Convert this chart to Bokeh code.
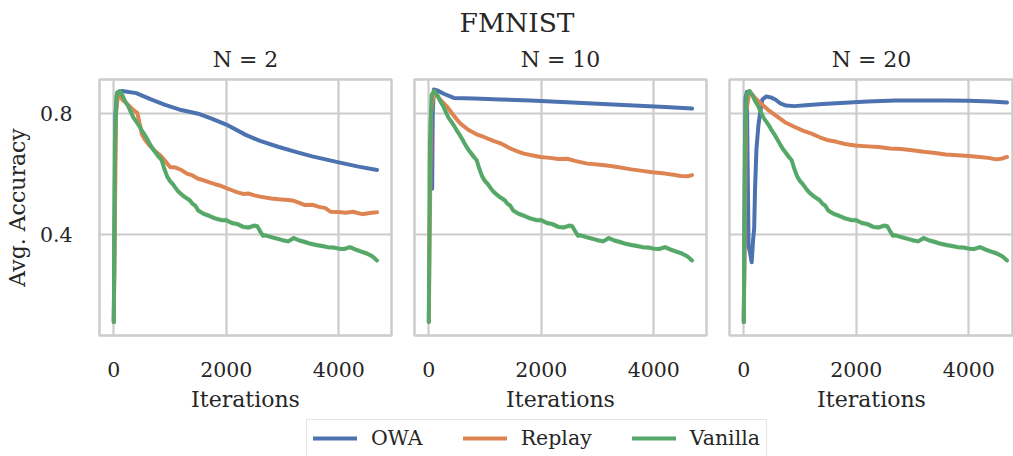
from bokeh.plotting import figure
from bokeh.layouts import column, row
from bokeh.models import Range1d, Legend, LegendItem, Label
from bokeh.embed import file_html
from bokeh.resources import INLINE

# ---------------- data ----------------
suptitle = "FMNIST"
panel_titles = ["N = 2", "N = 10", "N = 20"]
method_names = ["OWA", "Replay", "Vanilla"]
x_ticks = [0, 2000, 4000]
y_ticks = [0.4, 0.8]

iters_vanilla = [0, 20, 50, 100, 150, 200, 250, 300, 350, 400,
                 450, 500, 550, 600, 650, 700, 750, 800, 850, 900,
                 950, 1000, 1050, 1100, 1150, 1200, 1250, 1300, 1350, 1400,
                 1450, 1500, 1600, 1700, 1800, 1900, 2000, 2100, 2200, 2300,
                 2400, 2500, 2550, 2600, 2650, 2700, 2800, 2900, 3000, 3100,
                 3200, 3300, 3400, 3500, 3600, 3700, 3800, 3900, 4000, 4100,
                 4200, 4300, 4400, 4500, 4600, 4680]
acc_vanilla = [0.11, 0.70, 0.86, 0.873, 0.86, 0.84, 0.825, 0.805, 0.785, 0.772,
               0.758, 0.742, 0.728, 0.712, 0.695, 0.680, 0.668, 0.655, 0.645, 0.615,
               0.590, 0.575, 0.565, 0.552, 0.540, 0.532, 0.524, 0.518, 0.512, 0.500,
               0.494, 0.478, 0.467, 0.460, 0.452, 0.447, 0.446, 0.437, 0.433, 0.424,
               0.422, 0.428, 0.426, 0.410, 0.395, 0.396, 0.390, 0.385, 0.380, 0.376,
               0.387, 0.379, 0.374, 0.368, 0.364, 0.361, 0.357, 0.356, 0.352, 0.351,
               0.357, 0.349, 0.342, 0.336, 0.326, 0.313]
spread_vanilla = [0, 0, 0, 0, 0.004, 0.005, 0.006, 0.007, 0.008, 0.008,
                  0.009, 0.010, 0.010, 0.011, 0.011, 0.011, 0.012, 0.012, 0.012, 0.012,
                  0.012, 0.012, 0.011, 0.011, 0.011, 0.011, 0.010, 0.010, 0.010, 0.010,
                  0.010, 0.010, 0.009, 0.009, 0.009, 0.009, 0.009, 0.009, 0.009, 0.009,
                  0.009, 0.009, 0.009, 0.009, 0.008, 0.008, 0.008, 0.008, 0.008, 0.008,
                  0.008, 0.008, 0.008, 0.008, 0.008, 0.008, 0.008, 0.008, 0.008, 0.008,
                  0.008, 0.008, 0.008, 0.008, 0.008, 0.008]

iters_owa_n2 = [0, 30, 60, 150, 400, 650, 900, 1200, 1500, 1750, 2000, 2345, 2600,
                2934, 3250, 3527, 4000, 4350, 4680]
acc_owa_n2 = [0.11, 0.80, 0.868, 0.873, 0.866, 0.846, 0.828, 0.810, 0.798, 0.781,
              0.762, 0.728, 0.708, 0.688, 0.671, 0.657, 0.637, 0.623, 0.612]

iters_replay_n2 = [0, 40, 80, 150, 250, 350, 420, 500, 560, 650, 750, 830, 900, 1000,
                   1100, 1200, 1300, 1400, 1500, 1600, 1700, 1800, 1900, 2000, 2100,
                   2200, 2300, 2400, 2500, 2600, 2800, 2930, 3100, 3200, 3300, 3400,
                   3527, 3650, 3764, 3850, 4000, 4120, 4250, 4417, 4550, 4680]
acc_replay_n2 = [0.11, 0.80, 0.868, 0.845, 0.828, 0.810, 0.800, 0.730, 0.710, 0.690,
                 0.672, 0.660, 0.645, 0.622, 0.620, 0.612, 0.600, 0.594, 0.583, 0.578,
                 0.571, 0.565, 0.560, 0.552, 0.545, 0.538, 0.533, 0.534, 0.528, 0.524,
                 0.518, 0.515, 0.513, 0.510, 0.503, 0.496, 0.497, 0.490, 0.486, 0.474,
                 0.473, 0.471, 0.474, 0.466, 0.470, 0.472]

iters_owa_n10 = [60, 70, 90, 150, 267, 444, 800, 1275, 1800, 2460, 3000, 3645, 4200, 4680]
acc_owa_n10 = [0.55, 0.80, 0.878, 0.875, 0.864, 0.850, 0.848, 0.845, 0.842, 0.836,
               0.831, 0.825, 0.820, 0.815]

iters_replay_n10 = [0, 40, 90, 200, 330, 450, 564, 700, 850, 978, 1150, 1275, 1450,
                    1600, 1689, 1850, 1986, 2150, 2300, 2460, 2600, 2816, 3000, 3200,
                    3350, 3600, 3800, 3942, 4200, 4350, 4475, 4600, 4680]
acc_replay_n10 = [0.11, 0.80, 0.872, 0.845, 0.820, 0.790, 0.765, 0.745, 0.730, 0.721,
                  0.708, 0.700, 0.683, 0.672, 0.666, 0.660, 0.655, 0.652, 0.648, 0.649,
                  0.642, 0.633, 0.630, 0.626, 0.622, 0.614, 0.609, 0.605, 0.600, 0.596,
                  0.592, 0.591, 0.595]

iters_owa_n20 = [0, 30, 55, 70, 85, 110, 140, 165, 185, 200, 225, 260, 290, 330, 400,
                 480, 560, 650, 750, 900, 1100, 1400, 1800, 2200, 2700, 3200, 3600,
                 4000, 4400, 4680]
acc_owa_n20 = [0.11, 0.85, 0.870, 0.600, 0.360, 0.340, 0.307, 0.380, 0.420, 0.550,
               0.680, 0.760, 0.800, 0.845, 0.855, 0.852, 0.845, 0.832, 0.825, 0.823,
               0.826, 0.830, 0.834, 0.838, 0.842, 0.842, 0.842, 0.841, 0.838, 0.835]

iters_replay_n20 = [0, 40, 100, 200, 310, 450, 608, 750, 906, 1050, 1205, 1350, 1503,
                    1650, 1800, 1980, 2200, 2398, 2600, 2800, 2995, 3200, 3400, 3590,
                    3800, 4000, 4189, 4350, 4486, 4600, 4680]
acc_replay_n20 = [0.11, 0.80, 0.873, 0.850, 0.831, 0.808, 0.787, 0.768, 0.754, 0.742,
                  0.732, 0.720, 0.710, 0.705, 0.698, 0.693, 0.690, 0.688, 0.683, 0.681,
                  0.677, 0.672, 0.668, 0.663, 0.661, 0.658, 0.655, 0.652, 0.647, 0.650,
                  0.655]

# ---------------- style ----------------
FONT = "DejaVu Serif"
TXT = "#262626"
GRID = "#cccccc"
COLORS = ["#4C72B0", "#DD8452", "#55A868"]
LW = 4

panel_series = [
    (iters_owa_n2, acc_owa_n2, iters_replay_n2, acc_replay_n2),
    (iters_owa_n10, acc_owa_n10, iters_replay_n10, acc_replay_n10),
    (iters_owa_n20, acc_owa_n20, iters_replay_n20, acc_replay_n20),
]
frame_widths = [292, 292, 284]
left_borders = [99, 12, 12]
right_borders = [11, 11, 0]
x_ends = [4937, 4937, 4795]

vanilla_lo = [a - s for a, s in zip(acc_vanilla, spread_vanilla)]
vanilla_hi = [a + s for a, s in zip(acc_vanilla, spread_vanilla)]

panels = []
for i in range(3):
    p = figure(frame_width=frame_widths[i], frame_height=256,
               x_range=Range1d(-254, x_ends[i]), y_range=Range1d(0.065, 0.911),
               output_backend="svg", toolbar_location=None,
               min_border_left=left_borders[i], min_border_right=right_borders[i],
               min_border_top=43, min_border_bottom=77,
               background_fill_color="white", border_fill_color="white")
    p.title.text = panel_titles[i]
    p.title.align = "center"
    p.title.text_font = FONT
    p.title.text_font_size = "22px"
    p.title.text_font_style = "normal"
    p.title.text_color = TXT
    p.title.standoff = 16

    p.outline_line_color = GRID
    p.outline_line_width = 2.5
    p.xaxis.ticker = x_ticks
    p.yaxis.ticker = y_ticks
    for g in (p.xgrid, p.ygrid):
        g.grid_line_color = GRID
        g.grid_line_width = 2.2
    for ax in (p.xaxis, p.yaxis):
        ax.axis_line_color = None
        ax.major_tick_line_color = None
        ax.minor_tick_line_color = None
        ax.major_tick_out = 0
        ax.major_tick_in = 0
        ax.minor_tick_out = 0
        ax.major_label_text_font = FONT
        ax.major_label_text_font_size = "20.5px"
        ax.major_label_text_color = TXT
        ax.axis_label_text_font = FONT
        ax.axis_label_text_font_size = "22px"
        ax.axis_label_text_font_style = "normal"
        ax.axis_label_text_color = TXT
    p.xaxis.axis_label = "Iterations"
    p.xaxis.major_label_standoff = 26
    p.xaxis.axis_label_standoff = 7
    if i == 0:
        p.yaxis.axis_label = "Avg. Accuracy"
        p.yaxis.major_label_standoff = 27
        p.yaxis.axis_label_standoff = 7
    else:
        p.yaxis.visible = False

    xo, yo, xr, yr = panel_series[i]
    p.line(xo, yo, line_color=COLORS[0], line_width=LW, line_join="round", line_cap="round")
    p.line(xr, yr, line_color=COLORS[1], line_width=LW, line_join="round", line_cap="round")
    p.varea(x=iters_vanilla, y1=vanilla_lo, y2=vanilla_hi, fill_color=COLORS[2], fill_alpha=0.2)
    p.line(iters_vanilla, acc_vanilla, line_color=COLORS[2], line_width=LW, line_join="round", line_cap="round")
    panels.append(p)

# title strip
tf = figure(width=1013, height=36, x_range=Range1d(0, 1013), y_range=Range1d(0, 36),
            x_axis_location=None, y_axis_location=None, min_border=0, title=None,
            output_backend="svg", toolbar_location=None)
tf.grid.visible = False
tf.outline_line_color = None
tf.add_layout(Label(x=516.5, y=14.5, x_units="screen", y_units="screen", text=suptitle,
                    text_align="center", text_baseline="middle",
                    text_font=FONT, text_font_size="26.5px", text_color=TXT))

# legend strip
lf = figure(width=1013, height=44, x_range=Range1d(0, 1), y_range=Range1d(0, 1),
            x_axis_location=None, y_axis_location=None, min_border=0, title=None,
            output_backend="svg", toolbar_location=None)
lf.grid.visible = False
lf.outline_line_color = None
items = []
for name, c in zip(method_names, COLORS):
    r = lf.line(x=[-10, -9], y=[-10, -10], line_color=c, line_width=LW, line_cap="round")
    items.append(LegendItem(label=name, renderers=[r]))
leg = Legend(items=items, orientation="horizontal", location=(306, 1),
             glyph_width=44, glyph_height=20, label_standoff=14, spacing=40,
             padding=6, margin=0, border_line_color=GRID, border_line_width=1.5,
             label_text_font=FONT, label_text_font_size="20.5px", label_text_color=TXT,
             background_fill_alpha=1.0)
lf.add_layout(leg)

layout = column(tf, row(*panels, spacing=0), lf, spacing=0)

open("out.html", "w").write(file_html(layout, INLINE))
